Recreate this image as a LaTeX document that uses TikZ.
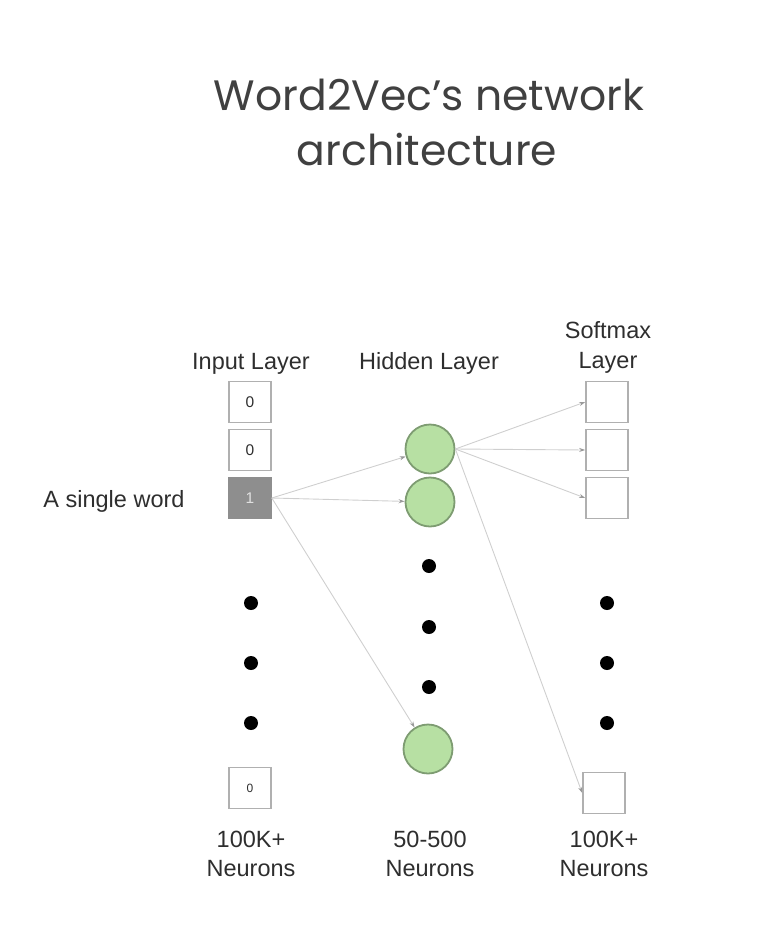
\documentclass[tikz,border=0pt]{standalone}
\usepackage{fontspec}
\setmainfont{Liberation Sans}
\newfontfamily\titlefont{Poppins}
\usepackage{tikz}
\usetikzlibrary{positioning,arrows.meta,calc}
\usepackage{xcolor}
\definecolor{cellgray}{HTML}{B0B0B0}
\definecolor{hotgray}{HTML}{8E8E8E}
\definecolor{unitfill}{HTML}{B7E0A3}
\definecolor{unitdraw}{HTML}{7E9C72}
\definecolor{linkgray}{HTML}{CFCFCF}
\definecolor{textgray}{HTML}{2E2E2E}

\begin{document}
\begin{tikzpicture}[x=1pt,y=-1pt,
  cell/.style={draw=cellgray, line width=1.6pt, fill=white, minimum width=42pt, minimum height=41pt,
    inner sep=0pt, text=textgray, font=\fontsize{15.5}{15.5}\selectfont},
  unit/.style={circle, draw=unitdraw, line width=1.8pt, fill=unitfill, minimum size=49pt, inner sep=0pt},
  lbl/.style={anchor=base, text=textgray, font=\fontsize{23.5}{23.5}\selectfont},
  link/.style={draw=linkgray, line width=0.9pt, -{Stealth[length=6pt,width=4pt,color=black!40]}}]
  \useasboundingbox (0,0) rectangle (776,935);
  % Title
  \node[anchor=base, text=black!75, font=\titlefont\fontsize{42.5}{42.5}\selectfont] (title1) at (429,110) {Word2Vec’s network};
  \node[anchor=base, text=black!75, font=\titlefont\fontsize{42.5}{42.5}\selectfont] (title2) at (427,165) {architecture};
  % Layer headings
  \node[lbl] (inhead) at (251,369) {Input Layer};
  \node[lbl] (hidhead) at (429,369) {Hidden Layer};
  \node[lbl] (outhead1) at (608,338) {Softmax};
  \node[lbl] (outhead2) at (608,368) {Layer};
  \node[lbl] (word) at (114,507) {A single word};
  % Input layer: one-hot vector
  \node[cell] (in1) at (250,402) {0};
  \node[cell] (in2) at (250,450) {0};
  \node[cell, fill=hotgray, draw=hotgray, text=black!12] (in3) at (250,498) {1};
  \node[cell, font=\fontsize{12}{12}\selectfont] (in4) at (250,788) {0};
  % Hidden layer
  \node[unit] (h1) at (430,449) {};
  \node[unit] (h2) at (430,502) {};
  \node[unit] (h3) at (428,749) {};
  % Softmax layer
  \node[cell] (s1) at (607,402) {};
  \node[cell] (s2) at (607,450) {};
  \node[cell] (s3) at (607,498) {};
  \node[cell] (s4) at (604,793) {};
  % Ellipsis dots
  \foreach \y in {603, 663, 723} {
    \fill (251,\y) circle (7);
    \fill (607,\y) circle (7);
  }
  \foreach \y in {566, 627, 687} {
    \fill (429,\y) circle (7);
  }
  % Weights
  \foreach \t in {h1, h2, h3} {
    \draw[link] (in3.east) -- (\t);
  }
  \foreach \t in {s1, s2, s3, s4} {
    \draw[link] (h1.east) -- (\t.west);
  }
  % Sizes
  \node[lbl] (insize1) at (251,847) {100K+};
  \node[lbl] (insize2) at (251,876) {Neurons};
  \node[lbl] (hidsize1) at (430,847) {50-500};
  \node[lbl] (hidsize2) at (430,876) {Neurons};
  \node[lbl] (outsize1) at (604,847) {100K+};
  \node[lbl] (outsize2) at (604,876) {Neurons};
\end{tikzpicture}
\end{document}
